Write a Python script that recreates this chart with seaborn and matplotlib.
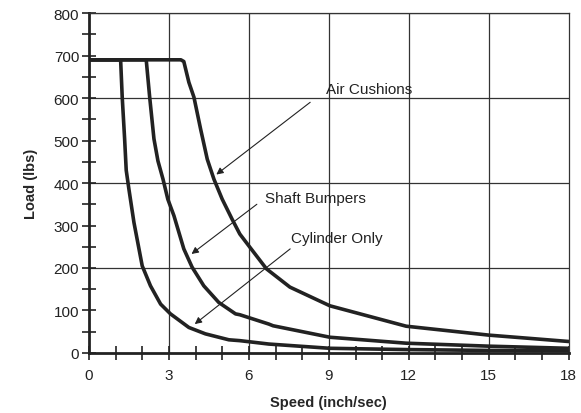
import numpy as np
import pandas as pd
import matplotlib.pyplot as plt
import seaborn as sns

# values
cyl_speed = [0.0, 1.19, 1.25, 1.34, 1.4, 1.5, 1.69, 2.0, 2.31, 2.69, 3.06, 3.75,
             4.37, 5.25, 5.66, 6.75, 9.04, 11.9, 15.0, 18.0]
cyl_load = [690, 690, 602, 504, 430, 386, 307, 205, 158, 115, 92, 60,
            45, 31, 29, 21, 11, 8, 6, 5]

shaft_speed = [0.0, 2.15, 2.28, 2.44, 2.59, 2.78, 2.96, 3.19, 3.56, 3.87, 4.31,
               4.87, 5.5, 5.66, 6.75, 6.91, 9.04, 11.9, 15.0, 18.0]
shaft_load = [690, 690, 602, 504, 452, 409, 362, 323, 245, 202, 158,
              119, 92, 90, 68, 64, 37, 23, 16, 11]

air_speed = [0.0, 3.45, 3.56, 3.75, 3.94, 4.19, 4.44, 4.69, 5.0, 5.37, 5.66,
             6.0, 6.66, 7.54, 9.04, 11.9, 15.0, 18.0]
air_load = [690, 690, 686, 637, 602, 527, 456, 409, 362, 315, 280,
            252, 198, 155, 111, 63, 42, 27]

# label text, text centre, arrow head, arrow tail
notes = [
    ("Air Cushions", (10.5, 622), (4.78, 420), (8.3, 590)),
    ("Shaft Bumpers", (8.5, 365), (3.85, 233), (6.3, 350)),
    ("Cylinder Only", (9.3, 270), (3.97, 68), (7.55, 245)),
]

df = pd.concat([
    pd.DataFrame({"speed": cyl_speed, "load": cyl_load, "curve": "Cylinder Only"}),
    pd.DataFrame({"speed": shaft_speed, "load": shaft_load, "curve": "Shaft Bumpers"}),
    pd.DataFrame({"speed": air_speed, "load": air_load, "curve": "Air Cushions"}),
])

sns.set_style("white")
plt.rcParams['font.family'] = ['Liberation Sans', 'DejaVu Sans']

fig = plt.figure(figsize=(5.81, 4.14), dpi=100)
ax = fig.add_axes([0.153, 0.145, 0.826, 0.821])

ax.set_axisbelow(True)
sns.lineplot(data=df, x="speed", y="load", units="curve", estimator=None,
             color="#222222", linewidth=2.6, sort=False, ax=ax, legend=False)
for line in ax.lines:
    line.set_solid_joinstyle("round")

ax.set_xlim(0, 18)
ax.set_ylim(0, 800)
ax.set_xticks(range(0, 19, 3))
ax.set_xticks(range(0, 19, 1), minor=True)
ax.set_yticks(range(0, 801, 100))
ax.set_yticks(range(50, 800, 100), minor=True)

for v in range(3, 18, 3):
    ax.axvline(v, color="#333333", linewidth=0.9, zorder=0)
for v in range(200, 801, 200):
    ax.axhline(v, color="#333333", linewidth=0.9, zorder=0)

ax.tick_params(axis="y", which="both", direction="inout", length=10, width=1.2,
               left=True, labelsize=11, colors="#222222", pad=2)
ax.tick_params(axis="x", which="both", direction="inout", length=10, width=1.2,
               bottom=True, labelsize=11, colors="#222222", pad=6)

for side in ["left", "bottom"]:
    ax.spines[side].set_linewidth(2)
    ax.spines[side].set_color("#222222")
for side in ["top", "right"]:
    ax.spines[side].set_linewidth(0.9)
    ax.spines[side].set_color("#333333")

ax.set_xlabel("Speed (inch/sec)", fontsize=10.5, fontweight="bold", labelpad=9)
ax.set_ylabel("Load (lbs)", fontsize=10.5, fontweight="bold", labelpad=11)

for text, pos, head, tail in notes:
    ax.text(pos[0], pos[1], text, fontsize=11, ha="center", va="center", color="#222222")
    ax.annotate("", xy=head, xytext=tail,
                arrowprops=dict(arrowstyle="-|>", color="#222222", lw=0.8,
                                mutation_scale=10, shrinkA=0, shrinkB=0))

fig.savefig("out.png", dpi=100)
